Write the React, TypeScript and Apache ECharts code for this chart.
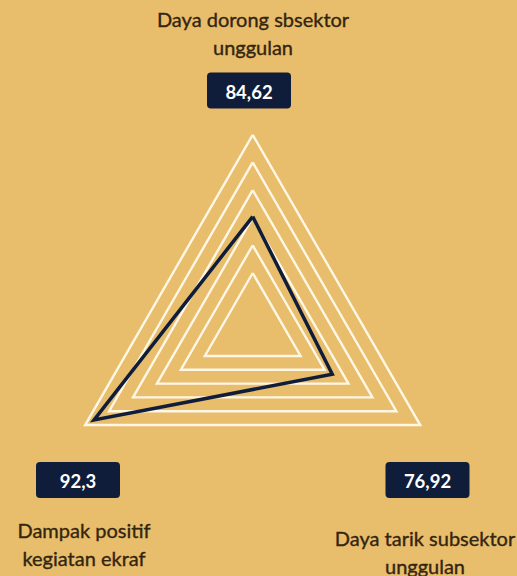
import React, { useEffect, useRef } from "react";
import * as echarts from "echarts";

// Data
const indicatorNames = [
  "Daya dorong sbsektor\nunggulan",
  "Dampak positif\nkegiatan ekraf",
  "Daya tarik subsektor\nunggulan",
];
const values = [84.62, 92.3, 76.92];
// scale maximum of each radar axis (min 0)
const axisMax = [146.6, 97.5, 162];

const BG = "#E8BD6B";
const NAVY = "#0F1D3A";
const RING = "#FFF7E6";
const TEXT = "#33250F";
const FONT = "Lato, 'Noto Sans', sans-serif";

export default function App() {
  const ref = useRef<HTMLDivElement>(null);
  useEffect(() => {
    const chart = echarts.init(ref.current!, null, { renderer: "svg" });
    const fmt = (v: number) => String(v).replace(".", ",");

    // layout of the annotation blocks: [label center x, label center y, box center x, box center y]
    const spots = [
      [253, 32.5, 249, 90.5],
      [84, 544, 78, 480],
      [425, 551.5, 427.5, 480],
    ];

    const graphics: any[] = [];
    indicatorNames.forEach((name, i) => {
      const [lx, ly, bx, by] = spots[i];
      graphics.push({
        type: "text",
        x: lx,
        y: ly,
        style: {
          text: name,
          fill: TEXT,
          stroke: TEXT,
          lineWidth: 0.35,
          font: `400 20px ${FONT}`,
          align: "center",
          verticalAlign: "middle",
          lineHeight: 28,
        },
      });
      graphics.push({
        type: "rect",
        shape: { x: bx - 42, y: by - 18, width: 84, height: 36, r: 4 },
        style: { fill: NAVY },
      });
      graphics.push({
        type: "text",
        x: bx,
        y: by + 1,
        style: {
          text: fmt(values[i]),
          fill: "#FFFFFF",
          font: `700 18.5px ${FONT}`,
          align: "center",
          verticalAlign: "middle",
        },
      });
    });

    chart.setOption({
      animation: false,
      backgroundColor: BG,
      radar: {
        center: [252.7, 328.3],
        radius: 193.5,
        startAngle: 90,
        shape: "polygon",
        splitNumber: 7,
        indicator: indicatorNames.map((n, i) => ({ name: n, max: axisMax[i], min: 0 })),
        axisName: { show: false },
        axisLine: { show: false },
        axisTick: { show: false },
        axisLabel: { show: false },
        splitArea: { show: false },
        splitLine: {
          lineStyle: {
            color: [
              "transparent",
              "transparent",
              RING,
              RING,
              RING,
              RING,
              RING,
              RING,
            ],
            width: 2.4,
          },
        },
      },
      graphic: graphics,
      series: [
        {
          type: "radar",
          symbol: "none",
          lineStyle: { color: NAVY, width: 3.5, join: "miter" },
          areaStyle: { opacity: 0 },
          data: [{ value: values, name: "Skor" }],
        },
      ],
    });
    return () => chart.dispose();
  }, []);

  return (
    <div
      ref={ref}
      style={{ position: "fixed", left: 0, top: 0, width: 517, height: 576, background: BG }}
    />
  );
}
